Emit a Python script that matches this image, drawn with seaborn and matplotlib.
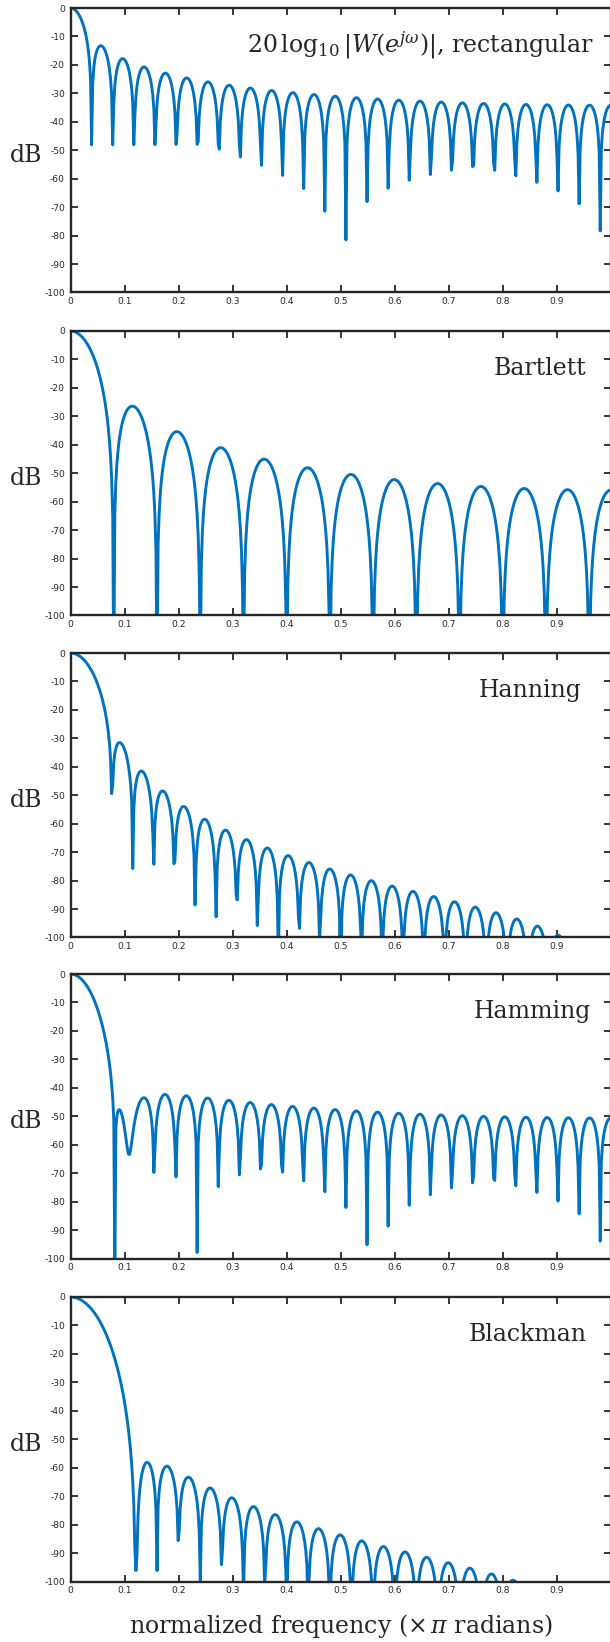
import numpy as np
import pandas as pd
import matplotlib
matplotlib.use("Agg")
import matplotlib.pyplot as plt
import seaborn as sns

# ---------------- data ----------------
PANEL_TITLES = [r"$20\,\log_{10}|W(e^{j\omega})|$, rectangular",
                "Bartlett", "Hanning", "Hamming", "Blackman"]
WINDOW_KINDS = ["rectangular", "bartlett", "hanning", "hamming", "blackman"]
WINDOW_LENGTH = 51          # samples in each window
N_FREQ = 512                # frequency samples on [0, pi)
# generalized-cosine coefficients (a0, a1, a2) for the cosine-sum windows
HANNING_COEFFS = [0.5, 0.5, 0.0]
HAMMING_COEFFS = [0.54, 0.46, 0.0]
BLACKMAN_COEFFS = [0.42, 0.5, 0.08]
X_TICKS = [0, 0.1, 0.2, 0.3, 0.4, 0.5, 0.6, 0.7, 0.8, 0.9, 1]
X_TICK_LABELS = ["0", "0.1", "0.2", "0.3", "0.4", "0.5", "0.6", "0.7", "0.8", "0.9", ""]
Y_TICKS = [0, -10, -20, -30, -40, -50, -60, -70, -80, -90, -100]
Y_TICK_LABELS = ["0", "-10", "-20", "-30", "-40", "-50", "-60", "-70", "-80", "-90", "-100"]
Y_LABEL = "dB"
X_LABEL = r"normalized frequency ($\times\,\pi$ radians)"


def make_window(kind, N):
    n = np.arange(N)
    if kind == "rectangular":
        return np.ones(N)
    if kind == "bartlett":
        M = (N - 1) / 2
        return 1 - np.abs(n - M) / M
    if kind == "hanning":
        a = HANNING_COEFFS
        k = np.arange(1, N + 1)
        return a[0] - a[1] * np.cos(2 * np.pi * k / (N + 1))
    a = HAMMING_COEFFS if kind == "hamming" else BLACKMAN_COEFFS
    return a[0] - a[1] * np.cos(2 * np.pi * n / (N - 1)) + a[2] * np.cos(4 * np.pi * n / (N - 1))


def spectrum_db(w):
    H = np.fft.fft(w, 2 * N_FREQ)[:N_FREQ]
    mag = np.abs(H) / np.abs(H).max()
    db = 20 * np.log10(np.maximum(mag, 1e-15))
    return np.arange(N_FREQ) / N_FREQ, db


frames = []
for kind in WINDOW_KINDS:
    f, db = spectrum_db(make_window(kind, WINDOW_LENGTH))
    frames.append(pd.DataFrame({"window": kind, "freq": f, "dB": db}))
df = pd.concat(frames, ignore_index=True)

# ---------------- style ----------------
sns.set_style("ticks")
plt.rcParams["font.family"] = ["DejaVu Sans"]
plt.rcParams["mathtext.fontset"] = "dejavuserif"
plt.rcParams["axes.unicode_minus"] = False

W, H = 610, 1642
fig = plt.figure(figsize=(W / 100, H / 100), dpi=100)
tops = [8, 331, 653, 974, 1297]
ax_h = 284.5
left, right = 70.5, 610.8
spine_col = "#262626"
line_col = "#0072BD"
title_x = [0.968, 0.955, 0.946, 0.963, 0.955]

for i, kind in enumerate(WINDOW_KINDS):
    top = tops[i]
    ax = fig.add_axes([left / W, 1 - (top + ax_h) / H, (right - left) / W, ax_h / H])
    sub = df[df["window"] == kind]
    sns.lineplot(data=sub, x="freq", y="dB", ax=ax, color=line_col,
                 linewidth=2.1, estimator=None, sort=False, legend=False)
    ax.set_xlim(0, 1)
    ax.set_ylim(-100, 0)
    ax.set_xticks(X_TICKS)
    ax.set_xticklabels(X_TICK_LABELS)
    ax.set_yticks(Y_TICKS)
    ax.set_yticklabels(Y_TICK_LABELS)
    ax.tick_params(direction="in", length=5, width=1.3, colors=spine_col,
                   labelsize=6.6, top=True, right=True, pad=3)
    ax.tick_params(axis="y", pad=4)
    for s in ax.spines.values():
        s.set_linewidth(1.7)
        s.set_color(spine_col)
        s.set_visible(True)
    ax.set_xlabel("")
    ax.set_ylabel(Y_LABEL, rotation=0, fontsize=17, family="DejaVu Serif",
                  va="center", ha="center")
    ax.yaxis.set_label_coords(-0.082, 0.48)
    ax.text(title_x[i], 0.868, PANEL_TITLES[i], transform=ax.transAxes,
            ha="right", va="center", fontsize=17, family="DejaVu Serif")
    if i == len(WINDOW_KINDS) - 1:
        ax.set_xlabel(X_LABEL, fontsize=17, family="DejaVu Serif", va="center")
        ax.xaxis.set_label_coords(0.5, -44 / ax_h)

fig.savefig("out.png", dpi=100)
